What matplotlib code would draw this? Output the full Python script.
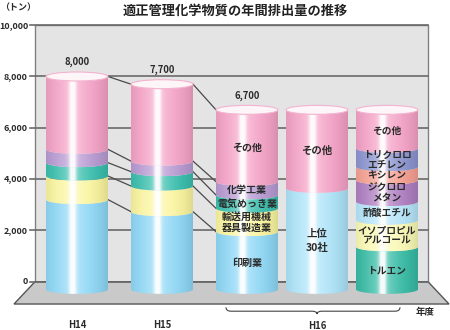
import numpy as np
import matplotlib
matplotlib.use("Agg")
import matplotlib.pyplot as plt
from matplotlib.patches import PathPatch, Ellipse, Polygon, Rectangle
from matplotlib.path import Path

plt.rcParams['font.family'] = ['Noto Sans CJK JP', 'DejaVu Sans']

# ---- data (t/year) ----
years = ['H14', 'H15', 'H16']
industries = ['印刷業', '輸送用機械\n器具製造業', '電気めっき業', '化学工業', 'その他']
h14 = [3200, 920, 520, 520, 2840]
h15 = [2730, 1000, 560, 410, 3000]
h16_industry = [1950, 910, 520, 520, 2800]
top30_labels = ['上位\n30社', 'その他']
h16_top30 = [3640, 3060]
substances = ['トルエン', 'イソプロピル\nアルコール', '酢酸エチル', 'ジクロロ\nメタン',
              'キシレン', 'トリクロロ\nエチレン', 'その他']
h16_subst = [1360, 1040, 720, 840, 520, 720, 1500]
totals = [8000, 7700, 6700]

ind_colors = ['#8fd8f6', '#fbf6a0', '#3bbfae', '#b99bd3', '#f5a3c7']
top30_colors = ['#aee4f9', '#f5a3c7']
subst_colors = ['#38bca6', '#fafab6', '#b6e6fa', '#b07fc2', '#f6a192', '#8c95d0', '#f5a3c7']

# ---- layout ----
bar_x = [77, 162, 247, 317, 387]
half_w = 31
cap_h = 175      # ellipse half height in data units
base = -300      # cylinders stand a little in front of the back wall
txt = '#2a2a2a'

fig = plt.figure(figsize=(4.5, 3.3), dpi=100)
ax = fig.add_axes([0, 0, 1, 1])
ax.set_xlim(0, 450)
ax.set_ylim(-1883, 10982)
ax.axis('off')

# back wall, floor, grid
ax.add_patch(Rectangle((35, 0), 393, 10000, facecolor='#e4e4e4', edgecolor='#808080', lw=1, zorder=0))
ax.add_patch(Polygon([(35, 0), (428, 0), (449, -870), (14, -870)], closed=True,
                     facecolor='#c9c9c9', edgecolor='#555555', lw=1, zorder=0.5))
for v in range(0, 10001, 2000):
    ax.plot([30, 428], [v, v], color='#6a6a6a', lw=1.2, zorder=1)
    ax.text(28, v, f'{v:,}', ha='right', va='center', fontsize=6.5, fontweight='bold', color=txt)

ax.text(18, 10700, '（トン）', ha='center', va='center', fontsize=6.5, fontweight='bold', color=txt)
ax.text(235, 10550, '適正管理化学物質の年間排出量の推移', ha='center', va='center',
        fontsize=9.5, fontweight='bold', color='#222222')


def shade(color, n=120):
    c = np.array(matplotlib.colors.to_rgb(color))
    t = np.linspace(0, 1, n)
    h = 0.85 * np.exp(-((t - 0.43) / 0.06) ** 2) + 0.3 * np.exp(-((t - 0.43) / 0.25) ** 2)
    h = np.clip(h, 0, 0.95)
    dark = 1 - 0.12 * (np.abs(t - 0.45) / 0.55) ** 3
    rows = (c[None, :] * dark[:, None]) * (1 - h[:, None]) + h[:, None]
    return np.clip(rows, 0, 1)[None, :, :]


def arc(xc, y, left_to_right=True, n=30):
    th = np.linspace(np.pi, 2 * np.pi, n)
    if not left_to_right:
        th = th[::-1]
    return np.column_stack([xc + half_w * np.cos(th), y + cap_h * np.sin(th)])


def cylinder(xc, values, colors):
    edges = np.concatenate([[base], np.cumsum(values)])
    for y0, y1, col in zip(edges[:-1], edges[1:], colors):
        pts = np.vstack([[[xc - half_w, y0]], [[xc - half_w, y1]],
                         arc(xc, y1, True), [[xc + half_w, y0]], arc(xc, y0, False)])
        patch = PathPatch(Path(pts, closed=False), facecolor='none', edgecolor='none', zorder=3)
        ax.add_patch(patch)
        im = ax.imshow(shade(col), extent=[xc - half_w, xc + half_w, y0 - cap_h, y1],
                       aspect='auto', interpolation='bilinear', zorder=3)
        im.set_clip_path(patch)
    ax.add_patch(Ellipse((xc, edges[-1]), 2 * half_w, 2 * cap_h, facecolor='#fdf5f8',
                         edgecolor='#f3b3cf', lw=0.8, zorder=4))
    return edges


def labels(xc, values, names, fs=7.2, ls=1.0):
    edges = np.concatenate([[base], np.cumsum(values)])
    for y0, y1, name in zip(edges[:-1], edges[1:], names):
        ax.text(xc, (y0 + y1) / 2 - 80, name, ha='center', va='center', fontsize=fs,
                fontweight='bold', color=txt, linespacing=ls, zorder=5)


# cylinders
stacks = [h14, h15, h16_industry]
edges_list = [cylinder(bar_x[i], stacks[i], ind_colors) for i in range(3)]
cylinder(bar_x[3], h16_top30, top30_colors)
cylinder(bar_x[4], h16_subst, subst_colors)

# connecting lines between the industry stacks
for i in range(2):
    for ya, yb in zip(edges_list[i][1:], edges_list[i + 1][1:]):
        ax.plot([bar_x[i] + half_w, bar_x[i + 1] - half_w], [ya, yb], color='#4a4a4a', lw=0.9, zorder=2)

# value labels
for i, tot in enumerate(totals):
    ax.text(bar_x[i], tot + 560, f'{tot:,}', ha='center', va='center', fontsize=6.8,
            fontweight='bold', color=txt)

labels(bar_x[2], h16_industry, industries, fs=7.2, ls=1.15)
labels(bar_x[3], h16_top30, top30_labels, fs=7.5, ls=1.45)
labels(bar_x[4], h16_subst, substances, fs=7.0, ls=1.0)

# category labels and brace
ax.text(bar_x[0], -1690, years[0], ha='center', va='center', fontsize=6.8, fontweight='bold', color=txt)
ax.text(bar_x[1], -1690, years[1], ha='center', va='center', fontsize=6.8, fontweight='bold', color=txt)
ax.text(bar_x[3], -1730, years[2], ha='center', va='center', fontsize=6.8, fontweight='bold', color=txt)
ax.text(425, -1200, '年度', ha='center', va='center', fontsize=6.8, fontweight='bold', color=txt)

bl, br, bm = bar_x[2] - 21, bar_x[4] + 13, bar_x[3]
verts = [(bl, -1000), (bl, -1150), (bl + 5, -1150), (bm - 5, -1150), (bm, -1150), (bm, -1260),
         (bm, -1150), (bm + 5, -1150), (br - 5, -1150), (br, -1150), (br, -1000)]
codes = [Path.MOVETO, Path.CURVE3, Path.CURVE3, Path.LINETO, Path.CURVE3, Path.CURVE3,
         Path.CURVE3, Path.CURVE3, Path.LINETO, Path.CURVE3, Path.CURVE3]
ax.add_patch(PathPatch(Path(verts, codes), facecolor='none', edgecolor='#444444', lw=0.8))

fig.savefig('out.png', dpi=100)
